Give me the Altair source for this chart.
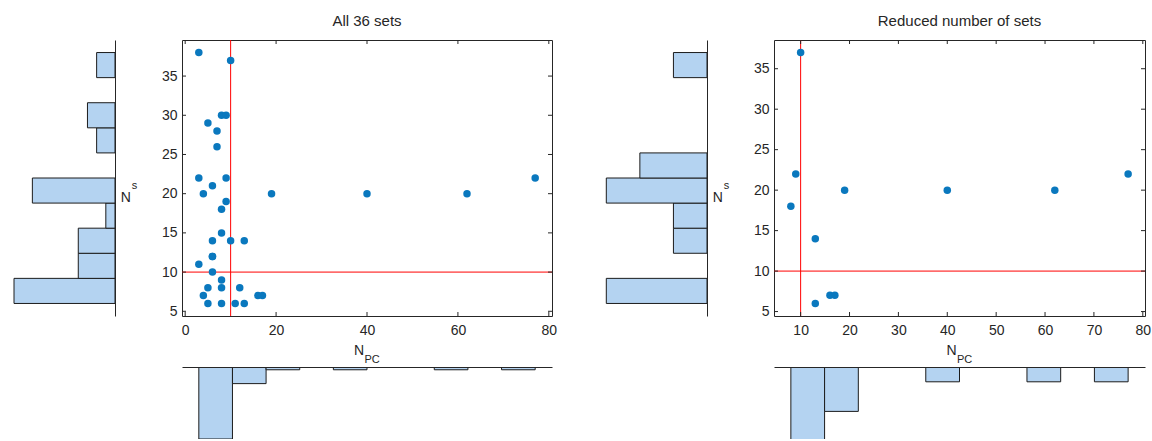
import altair as alt
import pandas as pd

# ---------------- data ----------------
# Panel 1: all 36 sets  (N_PC, N^s)
P1_NPC = [3, 10, 8, 9, 5, 7, 7, 3, 9, 6, 4, 19, 40, 62, 77, 9, 8, 8, 6, 10,
          13, 6, 6, 3, 6, 8, 5, 8, 12, 4, 16, 17, 5, 8, 11, 13]
P1_NS = [38, 37, 30, 30, 29, 28, 26, 22, 22, 21, 20, 20, 20, 20, 22, 19, 18, 15, 14, 14,
         14, 12, 12, 11, 10, 9, 8, 8, 8, 7, 7, 7, 6, 6, 6, 6]
# Panel 2: reduced number of sets
P2_NPC = [10, 9, 8, 13, 19, 40, 62, 77, 13, 16, 17]
P2_NS = [37, 22, 18, 14, 20, 20, 20, 22, 6, 7, 7]

# marginal histograms (bin edges and counts)
P1_NS_EDGES = [6, 9.2, 12.4, 15.6, 18.8, 22, 25.2, 28.4, 31.6, 34.8, 38]
P1_NS_COUNTS = [11, 4, 4, 1, 9, 0, 2, 3, 0, 2]
P1_NPC_EDGES = [3, 10.4, 17.8, 25.2, 32.6, 40, 47.4, 54.8, 62.2, 69.6, 77]
P1_NPC_COUNTS = [26, 6, 1, 0, 1, 0, 0, 1, 0, 1]
P2_NS_EDGES = [6, 9.1, 12.2, 15.3, 18.4, 21.5, 24.6, 27.7, 30.8, 33.9, 37]
P2_NS_COUNTS = [3, 0, 1, 1, 3, 2, 0, 0, 0, 1]
P2_NPC_EDGES = [8, 14.9, 21.8, 28.7, 35.6, 42.5, 49.4, 56.3, 63.2, 70.1, 77]
P2_NPC_COUNTS = [5, 3, 0, 0, 1, 0, 0, 1, 0, 1]

# axes
P1_XDOM = [-0.7, 80.7]
P1_YDOM = [4.4, 39.6]
P2_XDOM = [4.55, 80.45]
P2_YDOM = [4.45, 38.55]
P1_XTICKS = [0, 20, 40, 60, 80]
P2_XTICKS = [10, 20, 30, 40, 50, 60, 70, 80]
YTICKS = [5, 10, 15, 20, 25, 30, 35]
THRESH = 10
TITLES = ["All 36 sets", "Reduced number of sets"]

# ---------------- styling ----------------
FONT = "Liberation Sans"
INK = "#262626"
BAR_FILL = "#b4d3f1"
BAR_EDGE = "#1c1c1c"
DOT = "#0a78be"
SW, SH = 370, 276      # scatter plot area
HW = 88                # left histogram area width
BH = 72                # bottom histogram area height
LABEL_SIZE = 14


def scatter(npc, ns, xdom, ydom, xticks, title, width):
    xs = alt.Scale(domain=xdom, nice=False, zero=False)
    ys = alt.Scale(domain=ydom, nice=False, zero=False)
    xax = alt.Axis(values=xticks, ticks=False, tickSize=0, domain=False, grid=False,
                   labelPadding=7, title=None, labelFontSize=LABEL_SIZE,
                   labelColor=INK, labelFont=FONT)
    yax = alt.Axis(values=YTICKS, ticks=False, tickSize=0, domain=False, grid=False,
                   labelPadding=5, title=None, labelFontSize=LABEL_SIZE,
                   labelColor=INK, labelFont=FONT)
    X = alt.X("npc:Q", scale=xs, axis=xax)
    Y = alt.Y("ns:Q", scale=ys, axis=yax)

    pts = alt.Chart(pd.DataFrame({"npc": npc, "ns": ns})).mark_circle(
        size=56, color=DOT, opacity=1).encode(x=X, y=Y)
    vline = alt.Chart(pd.DataFrame({"npc": [THRESH]})).mark_rule(
        color="#ff0000", strokeWidth=1).encode(x=X)
    hline = alt.Chart(pd.DataFrame({"ns": [THRESH]})).mark_rule(
        color="#ff0000", strokeWidth=1).encode(y=Y)

    xt = alt.Chart(pd.DataFrame({"npc": xticks}))
    yt = alt.Chart(pd.DataFrame({"ns": YTICKS}))
    tk = dict(color=INK, strokeWidth=1)
    ticks = [
        xt.mark_rule(**tk).encode(x=X, y=alt.value(SH), y2=alt.value(SH - 4)),
        xt.mark_rule(**tk).encode(x=X, y=alt.value(0), y2=alt.value(4)),
        yt.mark_rule(**tk).encode(y=Y, x=alt.value(0), x2=alt.value(4)),
        yt.mark_rule(**tk).encode(y=Y, x=alt.value(width), x2=alt.value(width - 4)),
    ]

    txt = alt.Chart(pd.DataFrame({"t": [title], "n": ["N"], "pc": ["PC"]}))
    ttl = txt.mark_text(font=FONT, fontSize=15, color=INK, align="center",
                        baseline="alphabetic").encode(
        text="t:N", x=alt.value(width / 2), y=alt.value(-14.5))
    n_lab = txt.mark_text(font=FONT, fontSize=LABEL_SIZE, color=INK, align="right",
                          baseline="alphabetic").encode(
        text="n:N", x=alt.value(width / 2 - 3), y=alt.value(SH + 39))
    pc_lab = txt.mark_text(font=FONT, fontSize=11, color=INK, align="left",
                           baseline="alphabetic").encode(
        text="pc:N", x=alt.value(width / 2 - 2.5), y=alt.value(SH + 47))

    return alt.layer(vline, hline, pts, *ticks, ttl, n_lab, pc_lab).properties(
        width=width, height=SH,
        view=alt.ViewBackground(stroke=INK, strokeWidth=1, fill="white"))


def left_hist(edges, counts, ydom, cmax):
    df = pd.DataFrame({"lo": edges[:-1], "hi": edges[1:], "count": counts})
    df["zero"] = 0
    df = df[df["count"] > 0]
    ys = alt.Scale(domain=ydom, nice=False, zero=False)
    xs = alt.Scale(domain=[0, cmax], reverse=True, nice=False, zero=False)
    bars = alt.Chart(df).mark_rect(fill=BAR_FILL, stroke=BAR_EDGE, strokeWidth=1).encode(
        x=alt.X("count:Q", scale=xs, axis=None),
        x2="zero:Q",
        y=alt.Y("lo:Q", scale=ys,
                axis=alt.Axis(orient="right", domain=True, labels=False, ticks=False,
                              grid=False, title=None, domainColor=INK, zindex=1)),
        y2="hi:Q",
    )
    txt = alt.Chart(pd.DataFrame({"n": ["N"], "s": ["s"]}))
    n_lab = txt.mark_text(font=FONT, fontSize=LABEL_SIZE, color=INK, align="left",
                          baseline="alphabetic").encode(
        text="n:N", x=alt.value(HW + 5.7), y=alt.value(161.5))
    s_lab = txt.mark_text(font=FONT, fontSize=11, color=INK, align="left",
                          baseline="alphabetic").encode(
        text="s:N", x=alt.value(HW + 16.8), y=alt.value(148.5))
    return alt.layer(bars, n_lab, s_lab).properties(
        width=HW, height=SH, view=alt.ViewBackground(stroke=None))


def bottom_hist(edges, counts, xdom, cmax, width):
    df = pd.DataFrame({"lo": edges[:-1], "hi": edges[1:], "count": counts})
    df["zero"] = 0
    df = df[df["count"] > 0]
    xs = alt.Scale(domain=xdom, nice=False, zero=False)
    ys = alt.Scale(domain=[0, cmax], reverse=True, nice=False, zero=False)
    return alt.Chart(df).mark_rect(fill=BAR_FILL, stroke=BAR_EDGE, strokeWidth=1,
                                   clip=True).encode(
        x=alt.X("lo:Q", scale=xs,
                axis=alt.Axis(orient="top", domain=True, labels=False, ticks=False,
                              grid=False, title=None, domainColor=INK, zindex=1)),
        x2="hi:Q",
        y=alt.Y("count:Q", scale=ys, axis=None),
        y2="zero:Q",
    ).properties(width=width, height=BH, view=alt.ViewBackground(stroke=None))


def blank():
    return alt.Chart(pd.DataFrame({"a": [0]})).mark_point(opacity=0).encode(
        x=alt.X("a:Q", axis=None), y=alt.Y("a:Q", axis=None)
    ).properties(width=HW, height=BH, view=alt.ViewBackground(stroke=None))


lh1 = left_hist(P1_NS_EDGES, P1_NS_COUNTS, P1_YDOM, 11 * HW / 101)
s1 = scatter(P1_NPC, P1_NS, P1_XDOM, P1_YDOM, P1_XTICKS, TITLES[0], SW)
lh2 = left_hist(P2_NS_EDGES, P2_NS_COUNTS, P2_YDOM, 3 * HW / 100.7)
s2 = scatter(P2_NPC, P2_NS, P2_XDOM, P2_YDOM, P2_XTICKS, TITLES[1], SW + 1)
bh1 = bottom_hist(P1_NPC_EDGES, P1_NPC_COUNTS, P1_XDOM, 26, SW)
bh2 = bottom_hist(P2_NPC_EDGES, P2_NPC_COUNTS, P2_XDOM, BH / 14.8, SW + 1)

chart = alt.concat(
    lh1, s1, lh2, s2,
    blank(), bh1, blank(), bh2,
    columns=4,
    spacing={"row": 51, "column": 67},
    bounds="flush",
).properties(
    padding={"left": 13, "top": 13, "right": 0, "bottom": 0},
    background="white",
).configure_view(stroke=None)

chart.save("out.html", embed_options={"renderer": "svg", "actions": False})
